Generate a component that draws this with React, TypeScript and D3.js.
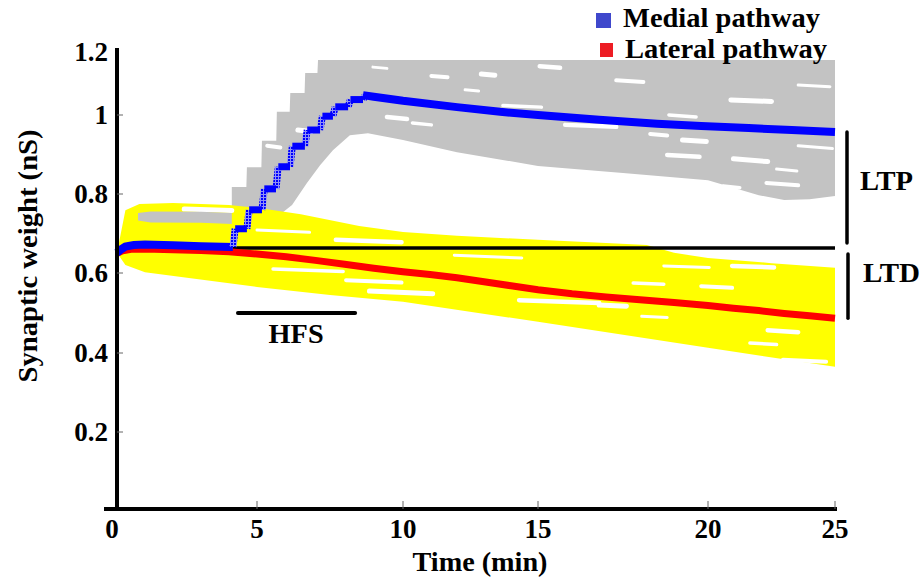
import React from "react";
import * as d3 from "d3";

// ---- Data -------------------------------------------------------------
const X_TICKS = [0, 5, 10, 15, 20, 25];
const Y_TICKS = [0, 0.2, 0.4, 0.6, 0.8, 1, 1.2];
const Y_TICK_LABELS = ["", "0.2", "0.4", "0.6", "0.8", "1", "1.2"];

// Medial pathway mean weight (nS): before HFS, during the HFS staircase, after HFS
const MEDIAL_PRE_T = [0, 0.15, 0.3, 0.6, 1, 2, 3, 4.14];
const MEDIAL_PRE_W = [0.651, 0.66, 0.667, 0.671, 0.672, 0.67, 0.668, 0.666];
const HFS_STEP_T = [4.14, 4.64, 5.17, 5.65, 6.13, 6.64, 7.16, 7.6, 8.12, 8.63];
const HFS_STEP_W = [0.712, 0.76, 0.813, 0.869, 0.921, 0.962, 0.997, 1.026, 1.049, 1.063];
const MEDIAL_POST_T = [8.63, 9, 10, 12, 13.6, 15, 16.8, 18.5, 19.8, 21.6, 23.3, 25];
const MEDIAL_POST_W = [1.063, 1.058, 1.045, 1.025, 1.01, 1.0, 0.988, 0.978, 0.972, 0.967, 0.962, 0.957];

// Lateral pathway mean weight (nS)
const LATERAL_T = [0, 0.2, 0.5, 1, 2, 3, 4, 5, 6, 7, 8, 9, 10, 11, 12, 13, 14, 15, 16, 17, 18, 19, 20, 21, 22, 23, 24, 25];
const LATERAL_W = [0.65, 0.656, 0.66, 0.661, 0.659, 0.657, 0.654, 0.648, 0.641, 0.632, 0.622, 0.612, 0.603, 0.596, 0.588, 0.578, 0.568, 0.558, 0.548, 0.54, 0.533, 0.526, 0.519, 0.512, 0.506, 0.499, 0.493, 0.487];

// Envelope of individual medial traces (grey)
const MEDIAL_ENV_UPPER_T = [4.1, 4.62, 4.64, 5.15, 5.17, 5.66, 5.68, 6.12, 6.14, 6.63, 6.65, 7.07, 7.09, 25];
const MEDIAL_ENV_UPPER_W = [0.818, 0.818, 0.868, 0.868, 0.935, 0.935, 1.01, 1.01, 1.07, 1.07, 1.133, 1.133, 1.175, 1.175];
const MEDIAL_ENV_LOWER_T = [4.1, 5.4, 5.68, 6.2, 6.71, 7.16, 7.6, 8.18, 8.8, 10, 12, 15, 17.5, 20, 22, 23, 24, 25];
const MEDIAL_ENV_LOWER_W = [0.7, 0.7, 0.742, 0.772, 0.828, 0.873, 0.911, 0.949, 0.954, 0.937, 0.906, 0.871, 0.853, 0.835, 0.797, 0.785, 0.787, 0.795];
// Grey traces visible before HFS
const MEDIAL_PRE_ENV_T = [0.75, 1.2, 3, 4.1];
const MEDIAL_PRE_ENV_UPPER = [0.752, 0.756, 0.755, 0.752];
const MEDIAL_PRE_ENV_LOWER = [0.733, 0.728, 0.727, 0.724];

// Envelope of individual lateral traces (yellow)
const LATERAL_ENV_UPPER_T = [0, 0.3, 0.8, 2, 4, 5, 6.5, 8.5, 10, 12, 15, 17, 18.2, 19, 20, 22.5, 25];
const LATERAL_ENV_UPPER_W = [0.651, 0.759, 0.775, 0.777, 0.772, 0.765, 0.749, 0.719, 0.704, 0.694, 0.684, 0.676, 0.671, 0.651, 0.638, 0.625, 0.613];
const LATERAL_ENV_LOWER_T = [0, 0.3, 1, 2.5, 5, 7.5, 10, 15, 20, 25];
const LATERAL_ENV_LOWER_W = [0.651, 0.62, 0.602, 0.588, 0.565, 0.545, 0.528, 0.478, 0.413, 0.365];

// Spaces between individual traces: [t0, t1, w0, w1]
const MEDIAL_TRACE_GAPS = [
  [5.35, 5.8, 0.922, 0.918], [6.4, 6.85, 0.962, 0.958], [8.97, 9.45, 1.152, 1.148],
  [9.45, 10.15, 0.995, 0.99], [10.35, 11.05, 0.98, 0.975], [11.05, 11.65, 1.124, 1.12],
  [12.9, 13.4, 1.13, 1.126], [12.3, 12.8, 1.08, 1.076], [15.05, 15.65, 1.155, 1.15],
  [18.85, 19.65, 1.0, 0.995], [18.3, 18.8, 0.952, 0.948], [21.0, 22.35, 0.889, 0.882],
  [22.7, 23.5, 0.863, 0.858], [18.8, 19.75, 0.899, 0.894], [20.6, 21.25, 0.82, 0.816],
  [22.3, 23.55, 0.828, 0.822], [19.25, 19.95, 0.937, 0.933], [23.55, 24.9, 0.922, 0.915],
  [15.8, 17.3, 0.975, 0.97], [13.7, 15.1, 1.03, 1.025], [17.3, 18.1, 1.11, 1.105],
  [20.9, 22.5, 1.048, 1.043], [23.55, 24.8, 1.095, 1.09], [10.9, 12.1, 0.899, 0.893],
];
const LATERAL_TRACE_GAPS = [
  [5.0, 6.8, 0.709, 0.703], [7.7, 9.95, 0.684, 0.678], [5.55, 7.95, 0.61, 0.604],
  [8.05, 9.95, 0.582, 0.576], [8.85, 11.1, 0.555, 0.548], [18.7, 20.05, 0.618, 0.614],
  [20.95, 22.6, 0.618, 0.614], [17.8, 18.7, 0.575, 0.572], [19.8, 20.95, 0.567, 0.563],
  [16.8, 17.6, 0.52, 0.517], [18.05, 18.8, 0.492, 0.489], [22.35, 23.55, 0.457, 0.452],
  [21.65, 22.7, 0.425, 0.421], [22.95, 24.65, 0.383, 0.378], [2.4, 4.1, 0.762, 0.758],
  [11.9, 14.4, 0.645, 0.638], [14.3, 16.8, 0.532, 0.525], [11, 13.5, 0.47, 0.462],
];

const BASELINE_W = 0.663;
const BASELINE_START = 4.14;
const HFS_START = 4.32;
const HFS_END = 8.36;
const HFS_LEVEL = 0.5;

const LEGEND_LABELS = ["Medial pathway", "Lateral pathway"];
const LEGEND_COLORS = ["#3f48cc", "#ed1c24"];

// ---- Layout -------------------------------------------------------------
const W = 921;
const H = 581;
const FONT = "'Times New Roman', 'Liberation Serif', Tinos, serif";
const GAP_WIDTHS = [4, 5, 3, 4.5, 3.5];

const x = d3.scaleLinear().domain(X_TICKS).range([117, 257, 403, 538, 708, 835]);
const y = d3.scaleLinear().domain(Y_TICKS).range([509, 432, 353, 273, 194, 115, 52]);

const zip = (ts: number[], ws: number[]) => ts.map((t, i) => [t, ws[i]] as [number, number]);
const line = d3.line<[number, number]>().x((d) => x(d[0])).y((d) => y(d[1]));
const band = (upper: [number, number][], lower: [number, number][]) =>
  line([...upper, ...lower.slice().reverse()]) + "Z";

export default function App() {
  const medialEnv = band(zip(MEDIAL_ENV_UPPER_T, MEDIAL_ENV_UPPER_W), zip(MEDIAL_ENV_LOWER_T, MEDIAL_ENV_LOWER_W));
  const medialPreEnv = band(zip(MEDIAL_PRE_ENV_T, MEDIAL_PRE_ENV_UPPER), zip(MEDIAL_PRE_ENV_T, MEDIAL_PRE_ENV_LOWER));
  const lateralEnv = band(zip(LATERAL_ENV_UPPER_T, LATERAL_ENV_UPPER_W), zip(LATERAL_ENV_LOWER_T, LATERAL_ENV_LOWER_W));

  // staircase pieces: risers (hatched) and flats (solid)
  const risers: string[] = [];
  const flats: string[] = [];
  HFS_STEP_T.forEach((t, k) => {
    const prev = k === 0 ? MEDIAL_PRE_W[MEDIAL_PRE_W.length - 1] : HFS_STEP_W[k - 1];
    risers.push(line([[t, prev], [t + 0.08, HFS_STEP_W[k]]]) as string);
    const next = k < HFS_STEP_T.length - 1 ? HFS_STEP_T[k + 1] : t + 0.08;
    flats.push(line([[t + 0.08, HFS_STEP_W[k]], [next, HFS_STEP_W[k]]]) as string);
  });

  const blueEnd = MEDIAL_POST_W[MEDIAL_POST_W.length - 1];
  const redEnd = LATERAL_W[LATERAL_W.length - 1];
  const textStyle = { fontFamily: FONT, fontWeight: 700 } as React.CSSProperties;

  return (
    <svg width={W} height={H} style={{ position: "absolute", left: 0, top: 0, background: "#fff" }}>
      <defs>
        <pattern id="riserHatch" width="3" height="3" patternUnits="userSpaceOnUse">
          <rect width="3" height="3" fill="#8f8ff5" />
          <rect width="2" height="2" fill="#0000ff" />
        </pattern>
      </defs>

      {/* individual traces */}
      <path d={medialEnv} fill="#c3c3c3" />
      {MEDIAL_TRACE_GAPS.map((g, i) => (
        <path key={"mg" + i} d={line([[g[0], g[2]], [g[1], g[3]]]) as string} stroke="#fff" strokeWidth={GAP_WIDTHS[i % GAP_WIDTHS.length]} strokeLinecap="round" />
      ))}
      <path d={lateralEnv} fill="#ffff00" />
      {LATERAL_TRACE_GAPS.map((g, i) => (
        <path key={"lg" + i} d={line([[g[0], g[2]], [g[1], g[3]]]) as string} stroke="#fff" strokeWidth={GAP_WIDTHS[(i + 2) % GAP_WIDTHS.length]} strokeLinecap="round" />
      ))}
      <path d={medialPreEnv} fill="#c3c3c3" />

      {/* pre-HFS reference level */}
      <path d={line([[BASELINE_START, BASELINE_W], [25, BASELINE_W]]) as string} stroke="#000" strokeWidth={3.5} />

      {/* mean traces */}
      <path d={line(zip(LATERAL_T, LATERAL_W)) as string} fill="none" stroke="#ff0000" strokeWidth={7} />
      <path d={line(zip(MEDIAL_PRE_T, MEDIAL_PRE_W)) as string} fill="none" stroke="#0000ff" strokeWidth={8} />
      {risers.map((d, i) => (
        <path key={"r" + i} d={d} fill="none" stroke="url(#riserHatch)" strokeWidth={7} />
      ))}
      {flats.map((d, i) => (
        <path key={"f" + i} d={d} fill="none" stroke="#0000ff" strokeWidth={7} />
      ))}
      <path d={line(zip(MEDIAL_POST_T, MEDIAL_POST_W)) as string} fill="none" stroke="#0000ff" strokeWidth={8} />

      {/* axes */}
      <line x1={x(0)} x2={x(0)} y1={48} y2={y(0) + 2} stroke="#000" strokeWidth={4} />
      <line x1={104} x2={x(25) + 2} y1={y(0)} y2={y(0)} stroke="#000" strokeWidth={4} />
      {X_TICKS.slice(1).map((t) => (
        <line key={"xt" + t} x1={x(t)} x2={x(t)} y1={y(0) - 8} y2={y(0)} stroke="#666" strokeWidth={1} />
      ))}
      {Y_TICKS.slice(1, 6).map((v) => (
        <line key={"yt" + v} x1={x(0)} x2={x(0) + 6} y1={y(v)} y2={y(v)} stroke="#666" strokeWidth={1} />
      ))}
      <g style={textStyle}>
        {X_TICKS.map((t) => (
          <text key={"xl" + t} x={x(t) - (t === 0 ? 5 : 0)} y={538} fontSize={27} textAnchor="middle">{t}</text>
        ))}
        {Y_TICKS.map((v, i) => (
          <text key={"yl" + v} x={108} y={y(v) + 9} fontSize={27} textAnchor="end">{Y_TICK_LABELS[i]}</text>
        ))}
        <text x={480} y={571} fontSize={27} textAnchor="middle" textLength={135} lengthAdjust="spacingAndGlyphs">Time (min)</text>
        <text transform={`translate(37, 256) rotate(-90)`} fontSize={27} textAnchor="middle" textLength={253} lengthAdjust="spacingAndGlyphs">Synaptic weight (nS)</text>

        {/* HFS period */}
        <text x={x((HFS_START + HFS_END) / 2)} y={343} fontSize={27} textAnchor="middle" textLength={55} lengthAdjust="spacingAndGlyphs">HFS</text>

        {/* LTP / LTD labels */}
        <text x={860} y={190} fontSize={27} textLength={53} lengthAdjust="spacingAndGlyphs">LTP</text>
        <text x={863} y={282} fontSize={27} textLength={57} lengthAdjust="spacingAndGlyphs">LTD</text>

        {/* legend */}
        <text x={623} y={27} fontSize={27} textLength={197} lengthAdjust="spacingAndGlyphs">{LEGEND_LABELS[0]}</text>
        <text x={625} y={58} fontSize={27} textLength={202} lengthAdjust="spacingAndGlyphs">{LEGEND_LABELS[1]}</text>
      </g>
      <path d={line([[HFS_START, HFS_LEVEL], [HFS_END, HFS_LEVEL]]) as string} stroke="#000" strokeWidth={4} strokeLinecap="round" />
      <line x1={847} x2={847} y1={y(blueEnd)} y2={y(BASELINE_W) - 5} stroke="#000" strokeWidth={3.5} strokeLinecap="round" />
      <line x1={848} x2={848} y1={y(BASELINE_W) + 6} y2={y(redEnd)} stroke="#000" strokeWidth={3.5} strokeLinecap="round" />
      <rect x={596} y={13} width={15} height={15} fill={LEGEND_COLORS[0]} />
      <rect x={600} y={43} width={13} height={14} fill={LEGEND_COLORS[1]} />
    </svg>
  );
}
